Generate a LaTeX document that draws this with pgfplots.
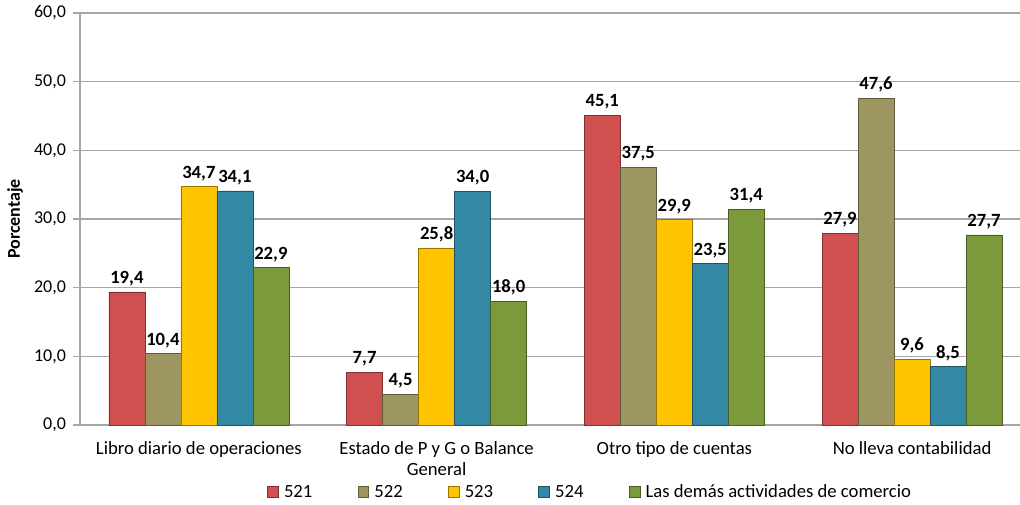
\documentclass[border=0pt]{standalone}
\usepackage{fontspec}
\setmainfont{Carlito}
\usepackage{pgfplots}
\pgfplotsset{compat=1.18}

\definecolor{cA}{HTML}{D0504F}
\definecolor{cB}{HTML}{9E9660}
\definecolor{cC}{HTML}{FFC400}
\definecolor{cD}{HTML}{3389A4}
\definecolor{cE}{HTML}{7A9A3C}
\definecolor{gridc}{HTML}{A6A6A6}

\begin{document}
\begin{tikzpicture}
\useasboundingbox (-60pt,-59.25pt) rectangle (705pt,318.75pt);
\begin{axis}[
  at={(0,0)}, anchor=south west,
  scale only axis, width=705pt, height=309pt,
  ybar=0pt, bar width=27pt,
  xmin=-0.5, xmax=3.454, ymin=0, ymax=60,
  ytick={0,10,...,60},
  xtick={0,1,2,3},
  xticklabels={Libro diario de operaciones, Estado de P y G o Balance\\General, Otro tipo de cuentas, No lleva contabilidad},
  xticklabel style={align=center, font=\fontsize{14}{15.5}\selectfont, yshift=-4pt},
  yticklabel style={font=\fontsize{13.5}{15}\selectfont, xshift=-2pt},
  /pgf/number format/.cd, use comma, fixed, fixed zerofill, precision=1, assume math mode=true,
  /pgfplots/.cd,
  ymajorgrids, grid style={gridc, line width=1pt},
  axis line style={gridc, line width=1pt},
  axis x line*=bottom, axis y line*=left,
  x axis line style={-}, y axis line style={-},
  ytick style={gridc, line width=1pt}, tick align=outside, major tick length=5pt,
  xtick style={draw=none},
  ylabel={\bfseries Porcentaje},
  ylabel style={at={(axis description cs:-0.069,0.5)}, anchor=center, font=\fontsize{13.5}{15}\selectfont},
  nodes near coords,
  every node near coord/.append style={font=\fontsize{14}{15}\selectfont\bfseries, anchor=south, yshift=1pt},
  legend columns=5,
  legend image code/.code={\draw[#1, line width=0.5pt] (0pt,-4pt) rectangle (8pt,4pt);},
  legend style={at={(axis description cs:0.199,-0.163)}, anchor=west, draw=none,
    font=\fontsize{14}{15}\selectfont, inner sep=0pt,
    /tikz/every odd column/.append style={column sep=2pt},
    /tikz/every even column/.append style={column sep=32pt}},
]
\addplot[fill=cA, draw=cA!60!black] coordinates {(0,19.4) (1,7.7) (2,45.1) (3,27.9)};
\addplot[fill=cB, draw=cB!60!black] coordinates {(0,10.4) (1,4.5) (2,37.5) (3,47.6)};
\addplot[fill=cC, draw=cC!60!black] coordinates {(0,34.7) (1,25.8) (2,29.9) (3,9.6)};
\addplot[fill=cD, draw=cD!60!black] coordinates {(0,34.1) (1,34.0) (2,23.5) (3,8.5)};
\addplot[fill=cE, draw=cE!60!black] coordinates {(0,22.9) (1,18.0) (2,31.4) (3,27.7)};
\legend{521, 522, 523, 524, Las demás actividades de comercio}
\end{axis}
\end{tikzpicture}
\end{document}
